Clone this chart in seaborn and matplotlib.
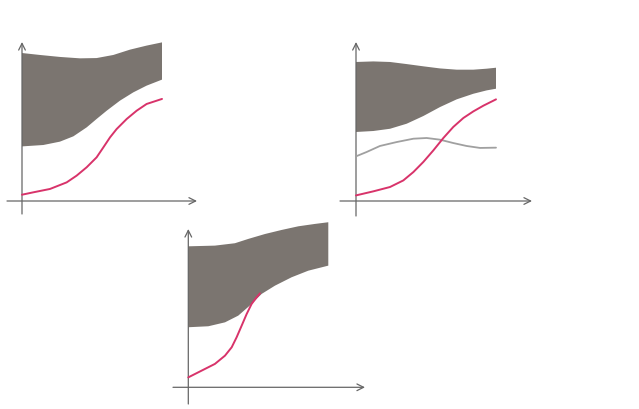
import numpy as np
import pandas as pd
import seaborn as sns
import matplotlib.pyplot as plt

# panel 1 (top left)
p1_band_x_up = [0, 1.29, 2.71, 4.14, 5.33, 6.52, 7.71, 8.9, 10]
p1_band_up = [10.57, 10.43, 10.29, 10.19, 10.21, 10.43, 10.81, 11.1, 11.33]
p1_band_x_lo = [0, 1.52, 2.71, 3.67, 4.62, 5.33, 6.05, 7.0, 7.95, 8.9, 10]
p1_band_lo = [3.9, 4.0, 4.24, 4.62, 5.26, 5.86, 6.45, 7.17, 7.76, 8.24, 8.67]
p1_red_x = [0, 0.81, 2.0, 3.19, 3.9, 4.62, 5.33, 5.81, 6.29, 6.76, 7.48, 8.19, 8.9, 10]
p1_red_y = [0.45, 0.62, 0.86, 1.33, 1.81, 2.41, 3.12, 3.83, 4.55, 5.14, 5.86, 6.45, 6.93, 7.29]

# panel 2 (top right)
p2_band_x = [0, 1.24, 2.43, 3.62, 4.81, 6.0, 7.19, 8.38, 9.33, 10]
p2_band_up = [9.93, 9.97, 9.93, 9.78, 9.62, 9.47, 9.38, 9.38, 9.45, 9.52]
p2_band_lo = [4.93, 5.0, 5.16, 5.52, 6.07, 6.71, 7.26, 7.66, 7.9, 8.02]
p2_gray_x = [0, 0.76, 1.71, 2.9, 4.1, 5.05, 6.0, 6.95, 7.9, 8.86, 10]
p2_gray_y = [3.19, 3.5, 3.93, 4.21, 4.45, 4.5, 4.38, 4.14, 3.93, 3.79, 3.81]
p2_red_x = [0, 1.24, 2.43, 3.38, 4.1, 4.81, 5.52, 6.24, 6.95, 7.67, 8.38, 9.1, 10]
p2_red_y = [0.4, 0.69, 1.0, 1.47, 2.07, 2.79, 3.61, 4.5, 5.29, 5.93, 6.4, 6.81, 7.26]

# panel 3 (bottom middle)
p3_band_x_up = [0, 1.9, 3.33, 4.29, 5.48, 6.67, 7.86, 9.05, 10]
p3_band_up = [10.07, 10.12, 10.29, 10.6, 10.95, 11.24, 11.5, 11.67, 11.79]
p3_band_x_lo = [0, 1.43, 2.62, 3.57, 4.52, 5.24, 6.19, 7.38, 8.57, 10]
p3_band_lo = [4.29, 4.36, 4.64, 5.12, 5.95, 6.67, 7.26, 7.86, 8.33, 8.69]
p3_red_x = [0, 0.95, 1.9, 2.62, 3.1, 3.45, 3.81, 4.17, 4.52, 4.88, 5.12]
p3_red_y = [0.71, 1.19, 1.67, 2.26, 2.86, 3.57, 4.4, 5.24, 5.95, 6.43, 6.71]

BAND = "#7b7570"
RED = "#d8336a"
GRAY = "#a0a0a0"
AXIS = "#666666"
W, H = 639, 410
PX = 14.0  # pixels per data unit


def make_axes(fig, origin, x_ext, y_ext):
    """axes placed by pixel extents, data origin at the arrow crossing"""
    ox, oy = origin
    left, right = x_ext
    top, bottom = y_ext
    ax = fig.add_axes([left / W, (H - bottom) / H, (right - left) / W, (bottom - top) / H])
    ax.set_xlim((left - ox) / PX, (right - ox) / PX)
    ax.set_ylim((oy - bottom) / PX, (oy - top) / PX)
    ax.set_axis_off()
    x0, x1 = ax.get_xlim()
    y0, y1 = ax.get_ylim()
    ax.annotate("", xy=(x1, 0), xytext=(x0, 0),
                arrowprops=dict(arrowstyle="->", color=AXIS, lw=0.9, shrinkA=0, shrinkB=0))
    ax.annotate("", xy=(0, y1), xytext=(0, y0),
                arrowprops=dict(arrowstyle="->", color=AXIS, lw=0.9, shrinkA=0, shrinkB=0))
    return ax


def band(ax, xu, yu, xl, yl):
    xs = np.concatenate([xu, xl[::-1]])
    ys = np.concatenate([yu, yl[::-1]])
    ax.fill(xs, ys, color=BAND, lw=0, zorder=2, clip_on=False)


def curve(ax, x, y, color, lw=1.4):
    sns.lineplot(x=x, y=y, ax=ax, color=color, lw=lw, zorder=3, clip_on=False)


sns.set_theme(style="white")
fig = plt.figure(figsize=(W / 100, H / 100), dpi=100)

ax1 = make_axes(fig, (22, 202), (7, 197), (43, 215))
band(ax1, p1_band_x_up, p1_band_up, p1_band_x_lo, p1_band_lo)
curve(ax1, p1_red_x, p1_red_y, RED)

ax2 = make_axes(fig, (356, 202), (340, 532), (43, 217))
band(ax2, p2_band_x, p2_band_up, p2_band_x, p2_band_lo)
curve(ax2, p2_gray_x, p2_gray_y, GRAY, lw=1.3)
curve(ax2, p2_red_x, p2_red_y, RED)

ax3 = make_axes(fig, (188.3, 388.3), (173, 365), (230, 405))
band(ax3, p3_band_x_up, p3_band_up, p3_band_x_lo, p3_band_lo)
curve(ax3, p3_red_x, p3_red_y, RED)

fig.savefig("out.png", dpi=100, facecolor="white")
plt.close(fig)
